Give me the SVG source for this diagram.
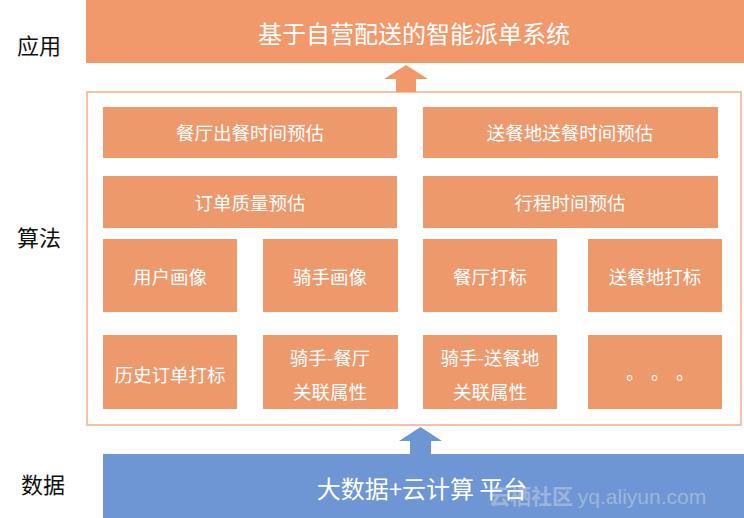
<svg xmlns="http://www.w3.org/2000/svg" width="744" height="518" viewBox="0 0 744 518">
<style>
.cn{font-family:"Noto Sans CJK SC","Liberation Sans",sans-serif}
.box{fill:#EE996C}
.t{fill:#FFFFFF;font-size:18.5px;text-anchor:middle;dominant-baseline:central}
.side{fill:#111111;font-size:22px;text-anchor:middle;dominant-baseline:central}
</style>
<rect width="744" height="518" fill="#FFFFFF"/>
<g id="side-labels" class="cn">
<text class="side" x="39" y="44">应用</text>
<text class="side" x="39" y="236">算法</text>
<text class="side" x="43" y="483">数据</text>
</g>
<g id="app">
<rect x="86" y="0" width="658" height="63" fill="#F2996B"/>
<text class="cn t" x="414" y="32" style="font-size:24px">基于自营配送的智能派单系统</text>
</g>
<g id="algo-frame">
<rect x="87" y="92" width="654" height="333" fill="#FFFFFF" stroke="#F4C3A4" stroke-width="2"/>
</g>
<g id="connectors">
<polygon points="406,65 428,79 416,79 416,92 396,92 396,79 384,79" fill="#F2996B"/>
<polygon points="420.5,427 442,441 431,441 431,455 410,455 410,441 399,441" fill="#6E96D4"/>
</g>
<g id="n1" class="cn"><rect class="box" x="103" y="107" width="294" height="51"/><text class="t" x="250" y="132">餐厅出餐时间预估</text></g>
<g id="n2" class="cn"><rect class="box" x="423" y="107" width="295" height="51"/><text class="t" x="570" y="132">送餐地送餐时间预估</text></g>
<g id="n3" class="cn"><rect class="box" x="103" y="176" width="294" height="52"/><text class="t" x="250" y="202">订单质量预估</text></g>
<g id="n4" class="cn"><rect class="box" x="423" y="176" width="295" height="52"/><text class="t" x="570" y="202">行程时间预估</text></g>
<g id="n5" class="cn"><rect class="box" x="103" y="239" width="134" height="73"/><text class="t" x="170" y="276">用户画像</text></g>
<g id="n6" class="cn"><rect class="box" x="263" y="239" width="135" height="73"/><text class="t" x="330" y="276">骑手画像</text></g>
<g id="n7" class="cn"><rect class="box" x="423" y="239" width="134" height="73"/><text class="t" x="490" y="276">餐厅打标</text></g>
<g id="n8" class="cn"><rect class="box" x="588" y="239" width="134" height="73"/><text class="t" x="655" y="276">送餐地打标</text></g>
<g id="n9" class="cn"><rect class="box" x="103" y="335" width="134" height="74"/><text class="t" x="170" y="374">历史订单打标</text></g>
<g id="n10" class="cn"><rect class="box" x="263" y="335" width="135" height="74"/><text class="t" x="330" y="357">骑手-餐厅</text><text class="t" x="330" y="391">关联属性</text></g>
<g id="n11" class="cn"><rect class="box" x="423" y="335" width="134" height="74"/><text class="t" x="490" y="357">骑手-送餐地</text><text class="t" x="490" y="391">关联属性</text></g>
<g id="n12"><rect class="box" x="588" y="335" width="134" height="74"/><text class="t" x="658" y="377" style="font-family:'Noto Sans CJK TC',sans-serif;font-size:18px;letter-spacing:7px">。。。</text></g>
<g id="data">
<rect x="103" y="454" width="641" height="64" fill="#6E96D4"/>
<text class="cn t" x="422" y="487" style="font-size:24px">大数据+云计算 平台</text>
</g>
<g id="watermark" class="cn">
<text x="489" y="504" fill="#E8E8E8" fill-opacity="0.4" style="font-size:21px;font-weight:bold">云栖社区 <tspan style="font-family:'Liberation Sans',sans-serif;font-weight:normal">yq.aliyun.com</tspan></text>
</g>
</svg>
